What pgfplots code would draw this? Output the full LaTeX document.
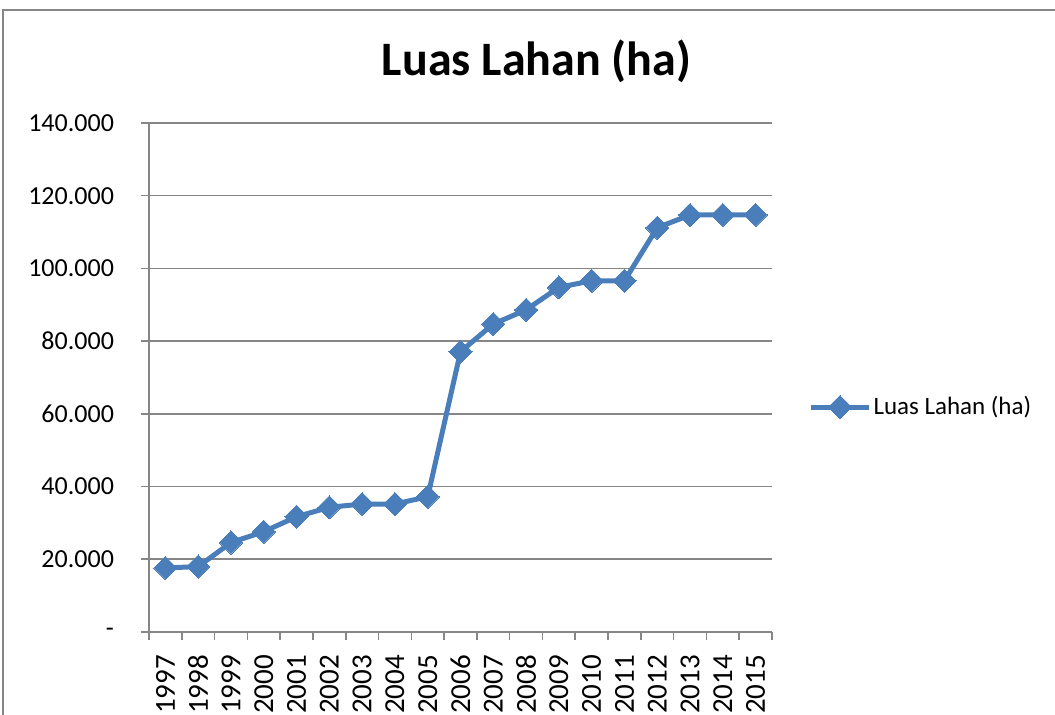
\documentclass[border=0pt]{standalone}
\usepackage{pgfplots}
\pgfplotsset{compat=1.18}
\usepackage{fontspec}
\setmainfont{Carlito}
\definecolor{exblue}{HTML}{4A7EBB}
\definecolor{exgray}{HTML}{868686}
\begin{document}
\begin{tikzpicture}[x=1pt,y=1pt]
\useasboundingbox (0,0) rectangle (527.5,357.5);
\draw[exgray, line width=0.8pt] (1.5,-20) -- (1.5,352.5) -- (560,352.5);
\begin{axis}[
  at={(74.5pt,41.5pt)}, anchor=south west,
  scale only axis, width=311.5pt, height=254.5pt,
  xmin=-0.5, xmax=18.5, ymin=0, ymax=140000,
  axis lines*=left,
  axis line style={exgray, line width=0.8pt},
  xtick={-0.5,0.5,...,18.5},
  x tick label as interval,
  xticklabels={1997,1998,1999,2000,2001,2002,2003,2004,2005,2006,2007,2008,2009,2010,2011,2012,2013,2014,2015},
  xticklabel style={rotate=90, anchor=east, font=\fontsize{14.5}{17}\selectfont, xshift=-4pt},
  ytick={0,20000,...,140000},
  scaled y ticks=false,
  yticklabels={-,20.000,40.000,60.000,80.000,100.000,120.000,140.000},
  yticklabel style={anchor=east, font=\fontsize{13}{15}\selectfont, xshift=-10pt},
  /pgf/number format/assume math mode=true,
  tick align=outside, major tick length=4pt,
  tick style={exgray, line width=0.8pt},
  ymajorgrids, grid style={exgray, line width=0.8pt},
  clip=false,
  title={\bfseries Luas Lahan (ha)},
  title style={at={(0.622,1.097)}, anchor=center, font=\fontsize{24}{28}\selectfont},
  legend style={at={(1.058,0.442)}, anchor=west, draw=none, fill=none, inner sep=0pt,
    font=\fontsize{12.5}{15}\selectfont, nodes={inner sep=1pt}},
  legend image code/.code={\draw[mark repeat=2,mark phase=2,#1] plot coordinates {(0pt,0pt) (14.5pt,0pt) (29pt,0pt)};},
]
\addplot[exblue, line width=2.5pt, mark=square*, mark size=4.1pt, mark options={rotate=45, solid, fill=exblue, draw=exblue, line width=0pt}]
coordinates {
(0,17600) (1,18000) (2,24600) (3,27600) (4,31700) (5,34300) (6,35200) (7,35200) (8,37200)
(9,77100) (10,84700) (11,88600) (12,94800) (13,96600) (14,96600) (15,111200) (16,114700) (17,114700) (18,114700)
};
\addlegendentry{Luas Lahan (ha)}
\end{axis}
\end{tikzpicture}
\end{document}
